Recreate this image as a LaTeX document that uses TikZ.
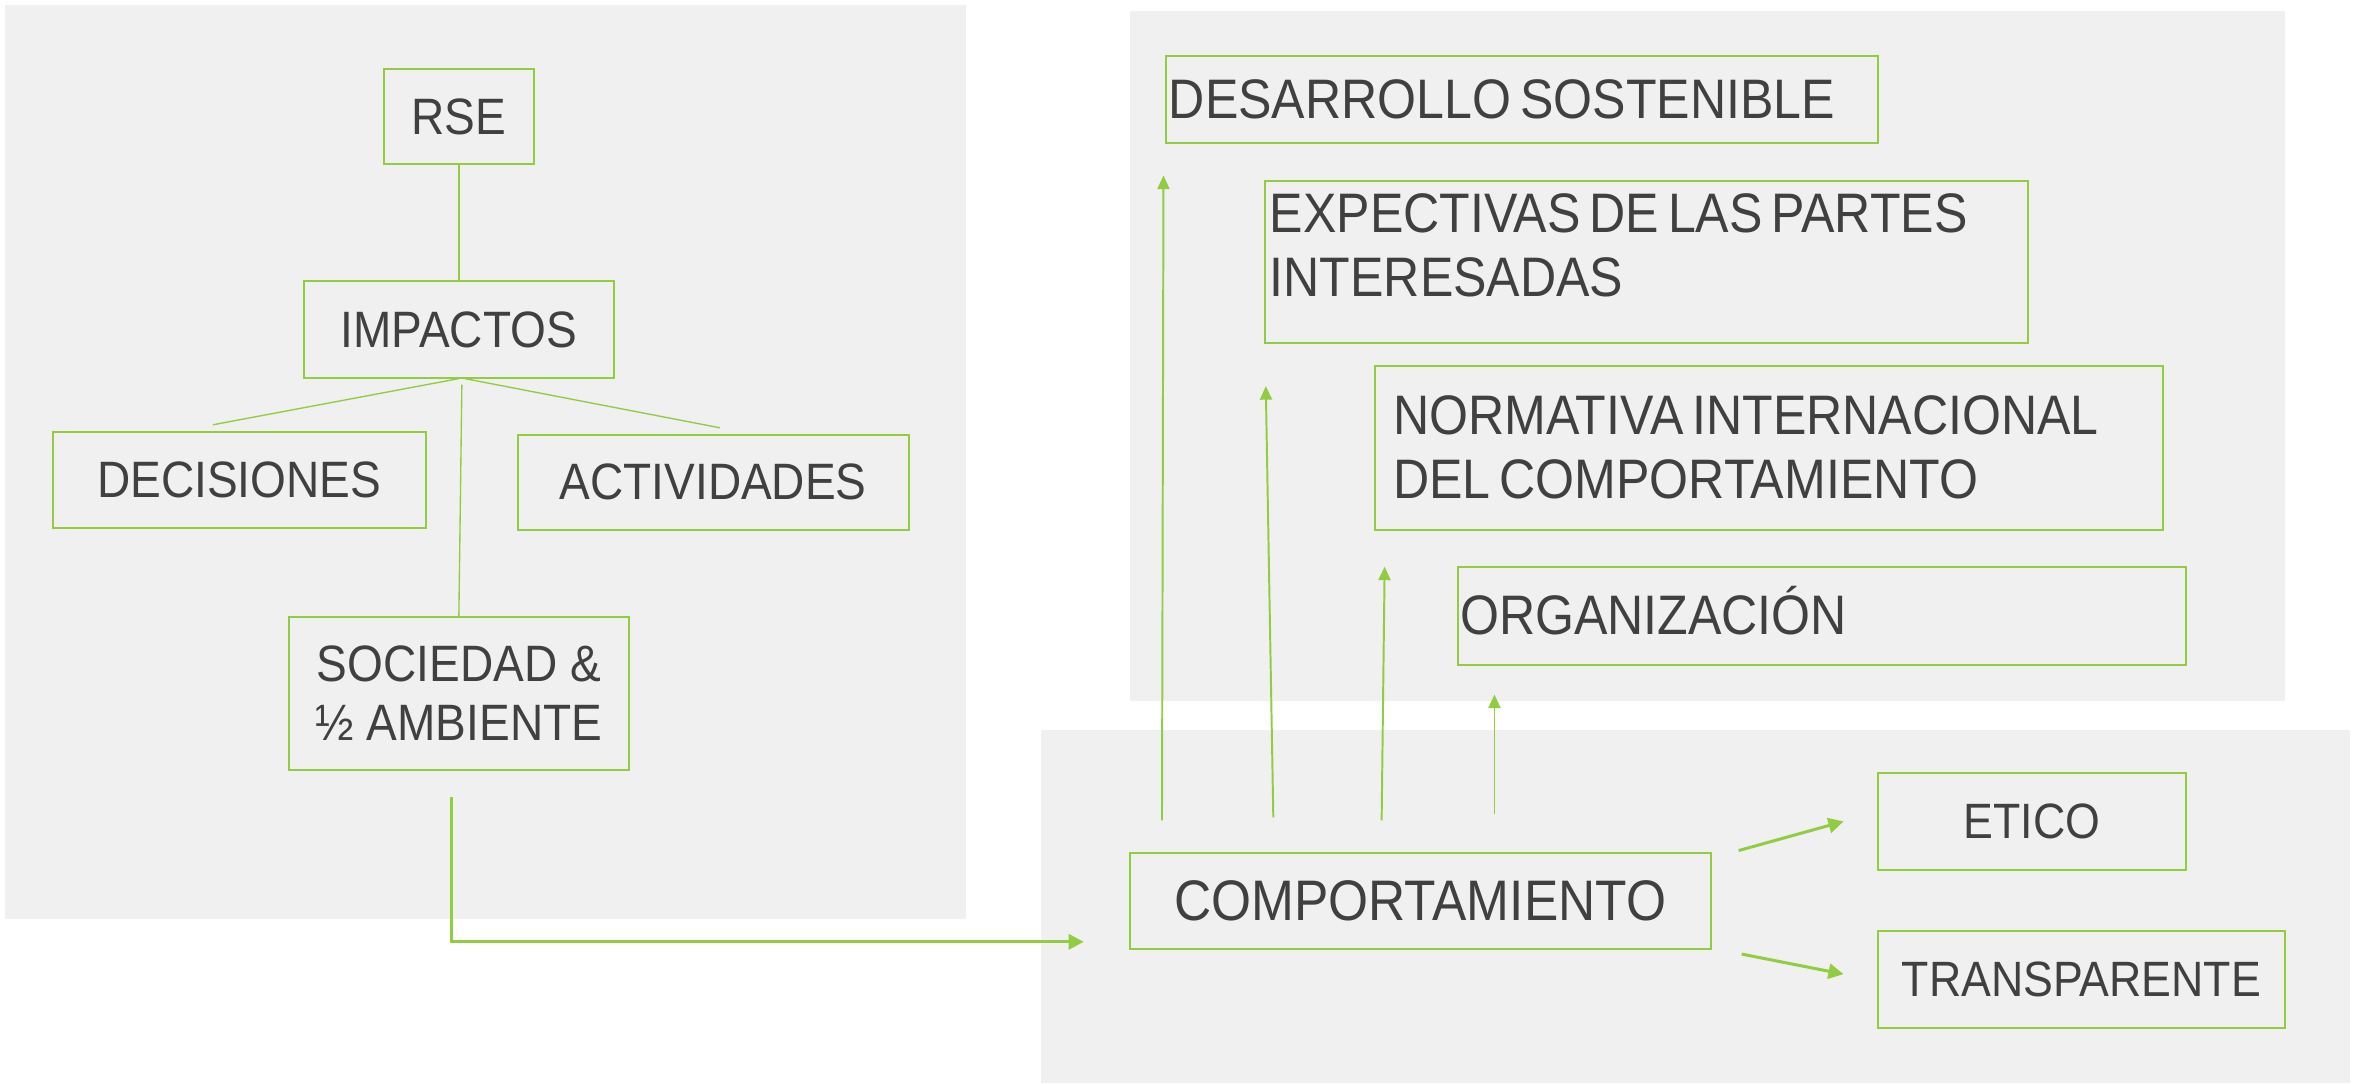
\documentclass[tikz,border=0pt]{standalone}
\usepackage{fontspec}
\setmainfont{Liberation Sans}[FakeStretch=0.9]
\usetikzlibrary{arrows.meta}
\definecolor{leaf}{RGB}{146,204,64}
\definecolor{ink}{RGB}{64,64,64}
\definecolor{panel}{RGB}{240,240,240}
\tikzset{
	box/.style={draw=leaf, line width=1.3pt, text=ink, inner sep=0pt},
	leftbox/.style={box, align=center, font=\fontsize{34}{39}\selectfont, text height=23.5pt, text depth=0pt},
	metabox/.style={box, align=left, inner ysep=0pt, font=\fontsize{37}{42.5}\selectfont, text height=25.5pt,
		execute at begin node={\spaceskip=0.16em\relax}},
	comp/.style={box, font=\fontsize{38}{42.5}\selectfont, text height=26pt, text depth=0pt},
	trait/.style={box, font=\fontsize{33}{38}\selectfont, text height=22.7pt, text depth=0pt},
	link/.style={draw=leaf, line width=0.9pt},
	flow/.style={draw=leaf, line width=2pt, -{Triangle[length=10pt,width=10pt]}},
	lift/.style={draw=leaf, line width=1.3pt, -{Triangle[length=9pt,width=8pt]}}
}
\begin{document}
\begin{tikzpicture}[x=1pt,y=-1pt]
	\useasboundingbox (0,0) rectangle (1568,720);
	% panels
	\fill[panel] (3,3) rectangle (642,611);
	\fill[panel] (751,7) rectangle (1519,466);
	\fill[panel] (692,485) rectangle (1562,720);

	% left tree
	\node[leftbox, minimum width=100pt, minimum height=63pt] (rse) at (305,77.5) {RSE};
	\node[leftbox, minimum width=206pt, minimum height=64pt] (imp) at (305,219) {IMPACTOS};
	\node[leftbox, minimum width=248pt, minimum height=64pt] (dec) at (159,319) {DECISIONES};
	\node[leftbox, minimum width=260pt, minimum height=63pt] (act) at (474,320.5) {ACTIVIDADES};
	\node[leftbox, minimum width=226pt, minimum height=102pt, text height=62.5pt] (soc) at (305,461) {SOCIEDAD \&\\½ AMBIENTE};

	\draw[link] (rse) -- (imp);
	\draw[link] (imp.south) -- ([xshift=-17.5pt,yshift=4pt]dec.north);
	\draw[link] ([xshift=4pt]imp.south) -- ([xshift=4.5pt,yshift=4pt]act.north);
	\draw[link] ([xshift=2pt,yshift=-4pt]imp.south) -- (soc.north);

	% right stack
	\node[metabox, text width=469pt, inner xsep=2pt, minimum height=58pt] (des) at (1011.5,66) {DESARROLLO SOSTENIBLE};
	\node[metabox, text width=501pt, inner xsep=3pt, minimum height=108pt, text depth=64.5pt] (exp) at (1094.5,174) {EXPECTIVAS DE LAS PARTES\\INTERESADAS};
	\node[metabox, text width=500pt, inner xsep=12pt, minimum height=109pt] (norm) at (1176,297.5) {NORMATIVA INTERNACIONAL\\DEL COMPORTAMIENTO};
	\node[metabox, text width=481pt, inner xsep=1.5pt, minimum height=65pt] (org) at (1211,409.5) {ORGANIZACIÓN};

	\node[comp, minimum width=386pt, minimum height=64pt] (comp) at (944,599) {COMPORTAMIENTO};
	\node[trait, minimum width=205pt, minimum height=64pt] (eti) at (1350.5,546) {ETICO};
	\node[trait, minimum width=271pt, minimum height=64pt] (tra) at (1383.5,651) {TRANSPARENTE};

	\draw[flow] ([xshift=-5pt,yshift=-17pt]soc.south) |- ([xshift=-30pt,yshift=-27pt]comp.west);
	\foreach \sx/\sy/\dst/\tx/\ty in {22/21/des/-1/-21, 96/23/exp/1/-28, 168/21/norm/7/-24, 243/25/org/25/-19}
		\draw[lift] ([xshift=\sx pt,yshift=\sy pt]comp.north west) -- ([xshift=\tx pt,yshift=\ty pt]\dst.south west);
	\draw[flow] ([xshift=18pt,yshift=1pt]comp.north east) -- ([xshift=-22pt]eti.west);
	\draw[flow] ([xshift=20pt,yshift=-2.5pt]comp.south east) -- ([xshift=-22pt,yshift=3.5pt]tra.west);
\end{tikzpicture}
\end{document}
